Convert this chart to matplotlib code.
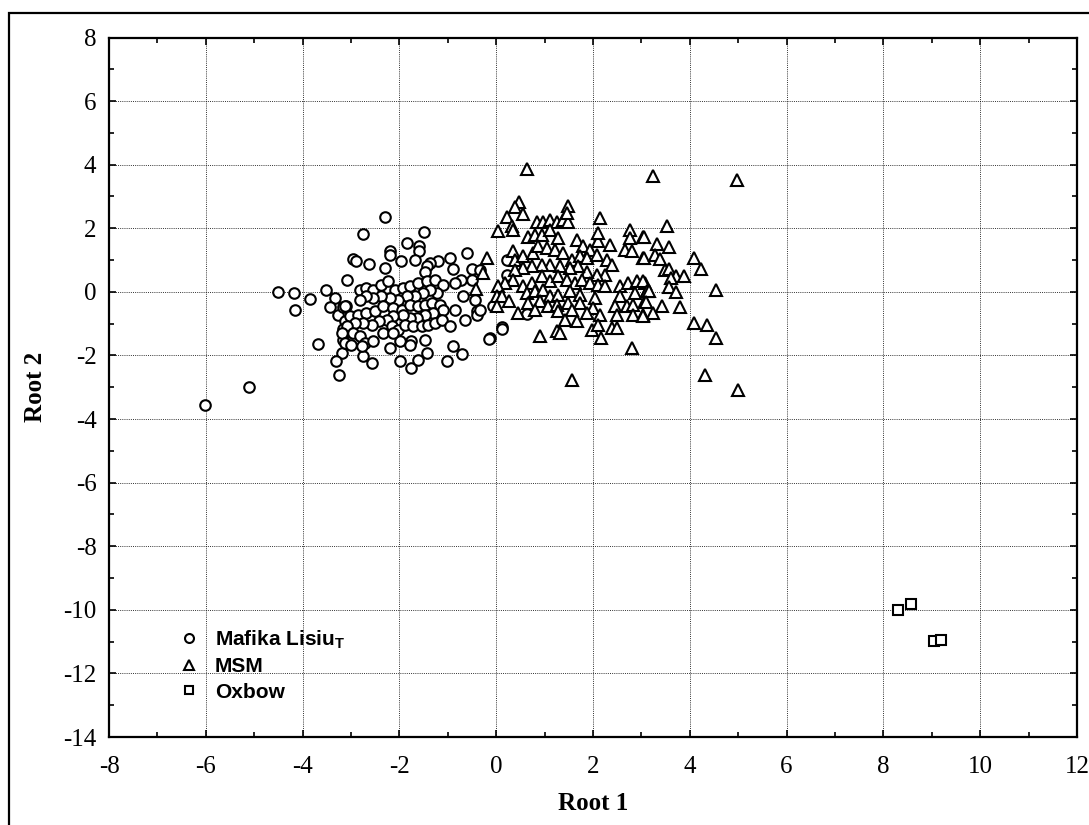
import matplotlib
matplotlib.use("Agg")
import matplotlib.pyplot as plt
from matplotlib.patches import Rectangle
import numpy as np

# ---------------- data ----------------
mafika_x = [-4.51, -4.18, -4.16, -3.85, -3.68, -5.10, -6.02, -3.52, -3.34, -3.43, -3.26, -3.16, -3.11,
            -3.12, -3.17, -3.16, -3.18, -3.30, -3.25, -3.09,
            -2.30, -2.76, -1.49, -1.84, -1.59, -1.59, -2.19, -2.19, -1.97, -1.68, -2.95, -2.90, -2.62,
            -2.30, -0.61, -0.95, -1.20, -1.37, -1.44, -1.47, -0.89, -0.51, -0.33, 0.22, 0.22, -0.72,
            -0.85, -0.51,
            -2.81, -2.68, -2.54, -2.37, -2.23, -2.09, -1.92, -1.78, -1.61, -1.44, -1.26, -1.09, -1.23,
            -1.37, -1.51, -1.68, -1.85, -2.02, -2.19, -2.37, -2.54, -2.68, -2.81, -3.12, -3.02, -2.85,
            -2.68, -2.50, -2.33, -2.13, -1.95, -1.78, -1.61, -1.47, -1.33, -1.16, -1.09, -1.30, -1.47,
            -1.64, -1.78, -1.92, -2.13, -2.26, -2.43, -2.57, -2.75, -2.92, -3.09, -3.19, -3.12, -2.95,
            -2.81, -2.71, -2.54, -2.33, -2.16, -2.02, -1.88, -1.71, -1.54, -1.40, -1.26, -1.13, -0.95,
            -0.85, -0.68, -0.44, -0.40, -0.40, -0.64, -0.13, 0.13, -0.89, -0.71, -1.02, -1.44, -1.47,
            -1.75, -1.99, -2.19, -1.99, -1.75, -1.61, -2.57, -2.75, -2.78, -2.99, -2.13, -1.78,
            -0.06, 0.63, 0.13, -0.14, -0.34]
mafika_y = [0.00, -0.04, -0.58, -0.22, -1.63, -3.00, -3.55, 0.07, -0.18, -0.48, -0.74, -0.48, -0.46,
            -0.93, -1.17, -1.50, -1.92, -2.18, -2.60, 0.36,
            2.37, 1.82, 1.87, 1.53, 1.43, 1.27, 1.27, 1.17, 0.96, 0.99, 1.03, 0.96, 0.88,
            0.75, 1.22, 1.08, 0.96, 0.91, 0.80, 0.64, 0.72, 0.72, 0.69, 1.01, 0.54, 0.38,
            0.28, 0.38,
            0.07, 0.12, 0.07, 0.23, 0.33, 0.07, 0.12, 0.17, 0.28, 0.33, 0.38, 0.22, -0.04,
            0.07, -0.04, -0.14, -0.14, -0.25, -0.19, -0.14, -0.19, -0.14, -0.25, -0.46, -0.77, -0.72,
            -0.67, -0.61, -0.46, -0.51, -0.56, -0.40, -0.46, -0.40, -0.35, -0.40, -0.56, -0.67, -0.72,
            -0.82, -0.82, -0.72, -0.77, -0.87, -0.93, -1.03, -0.98, -0.98, -1.08, -1.29, -1.61, -1.29,
            -1.40, -1.61, -1.55, -1.29, -1.08, -1.19, -1.03, -1.08, -1.08, -1.03, -0.98, -0.87, -1.08,
            -0.56, -0.14, -0.25, -0.61, -0.72, -0.87, -1.45, -1.12, -1.71, -1.95, -2.18, -1.92, -1.50,
            -1.56, -1.56, -1.76, -2.18, -2.39, -2.13, -2.24, -2.03, -1.71, -1.66, -1.29, -1.66,
            -0.46, -0.70, -1.16, -1.48, -0.56]

msm_x = [0.63, 0.47, 0.39, 0.55, 0.22, 0.32, 0.35, 0.04, 0.84, 0.97, 1.11, 1.25, 1.39, 1.49, 1.49,
         1.47, 2.14, 0.66, 0.80, 0.94, 1.11, 1.28, 1.66, 1.80, 1.94, 2.11, 2.11, 2.35, 2.76, 2.76,
         3.04, 2.66, 2.80, 3.04, -0.20, -0.27,
         0.35, 0.39, 0.56, 0.77, 0.87, 1.04, 1.21, 1.39, 1.56, 1.73, 1.87, 2.08, 2.28, 2.39, 2.25,
         2.08, 1.87, 1.70, 1.52, 1.32, 1.11, 0.94, 0.73, 0.56, 0.39, 0.35,
         0.18, 0.04, 0.01, 0.11, 0.27, 0.01,
         0.56, 0.73, 0.94, 1.11, 1.28, 1.46, 1.63, 1.77, 1.94, 2.11, 2.25, 2.56, 2.73, 2.90, 3.07,
         0.63, 0.80, 0.97, 1.11, 1.28, 1.52, 1.73, 2.04, 2.56, 2.87, 3.11,
         0.66, 0.90, 1.08, 1.25, 1.49, 1.73, 2.01, 2.45, 2.70, 2.83, 3.07,
         0.46, 0.80, 1.28, 1.56, 1.87, 2.14, 2.49, 2.83, 3.04,
         1.42, 1.66, 1.97, 2.11, 2.39, 2.49, 1.25, 1.32, 0.90, 2.16, 2.80, 1.56, -0.42,
         3.25, 4.97, 3.52, 3.05, 3.33, 3.58, 3.05, 3.28, 3.38, 4.09, 4.24, 3.49, 3.58, 3.71, 3.62,
         3.87, 3.04, 3.11, 3.16, 3.58, 3.71, 4.54, 3.10, 3.42, 3.80, 3.23, 3.04, 4.09, 4.35, 4.54,
         4.31, 5.00]
msm_y = [3.87, 2.84, 2.66, 2.44, 2.37, 2.06, 1.95, 1.90, 2.21, 2.21, 2.27, 2.21, 2.27, 2.21, 2.69,
         2.47, 2.32, 1.74, 1.80, 1.80, 1.95, 1.69, 1.64, 1.43, 1.32, 1.59, 1.85, 1.48, 1.95, 1.69,
         1.74, 1.32, 1.27, 1.06, 1.06, 0.59,
         1.27, 1.01, 1.12, 1.22, 1.43, 1.38, 1.32, 1.22, 1.01, 1.12, 1.06, 1.17, 1.01, 0.85, 0.54,
         0.54, 0.64, 0.80, 0.75, 0.80, 0.85, 0.85, 0.80, 0.75, 0.70, 0.38,
         0.28, 0.17, -0.14, -0.14, -0.30, -0.46,
         0.17, 0.28, 0.49, 0.33, 0.49, 0.38, 0.28, 0.38, 0.28, 0.22, 0.17, 0.17, 0.28, 0.33, 0.28,
         -0.04, 0.02, 0.07, -0.14, -0.09, 0.02, -0.09, -0.19, -0.14, -0.04, 0.02,
         -0.35, -0.30, -0.46, -0.40, -0.35, -0.35, -0.51, -0.46, -0.46, -0.40, -0.30,
         -0.66, -0.56, -0.61, -0.56, -0.66, -0.72, -0.72, -0.72, -0.72,
         -0.87, -0.93, -1.19, -1.03, -1.14, -1.14, -1.24, -1.29, -1.40, -1.45, -1.76, -2.76, 0.09,
         3.63, 3.52, 2.06, 1.72, 1.51, 1.41, 1.06, 1.17, 1.03, 1.06, 0.72, 0.70, 0.72, 0.49, 0.43,
         0.51, 0.33, 0.02, 0.02, 0.15, -0.02, 0.07, -0.33, -0.46, -0.48, -0.66, -0.77, -0.98, -1.03, -1.45,
         -2.63, -3.09]

oxbow_x = [8.30, 8.56, 9.05, 9.20]
oxbow_y = [-9.99, -9.81, -10.99, -10.94]

x_ticks = list(range(-8, 13, 2))
y_ticks = list(range(-14, 9, 2))
x_label = "Root 1"
y_label = "Root 2"
labels = [r"Mafika Lisiu$_{\mathbf{T}}$", "MSM", "Oxbow"]

# ---------------- style ----------------
plt.rcParams["mathtext.fontset"] = "custom"
plt.rcParams["mathtext.rm"] = "Liberation Sans"
plt.rcParams["mathtext.bf"] = "Liberation Sans:bold"

W, H = 1089, 825
fig = plt.figure(figsize=(W / 100, H / 100), dpi=100)
ax = fig.add_axes([109 / W, 1 - 737 / H, (1077 - 109) / W, (737 - 37.5) / H])

mk = dict(linestyle="none", markerfacecolor="white", markeredgecolor="black", markeredgewidth=1.5)
ax.plot(mafika_x, mafika_y, marker="o", markersize=7.6, label=labels[0], **mk)
ax.plot(msm_x, msm_y, marker="^", markersize=8.2, label=labels[1], **mk)
ax.plot(oxbow_x, oxbow_y, marker="s", markersize=7.6, label=labels[2], **mk)

ax.set_xlim(-8, 12)
ax.set_ylim(-14, 8)
ax.set_xticks(x_ticks)
ax.set_yticks(y_ticks)
ax.set_xticks(np.arange(-7, 12, 2), minor=True)
ax.set_yticks(np.arange(-13, 8, 2), minor=True)
ax.set_xticklabels([str(t) for t in x_ticks])
ax.set_yticklabels([str(t) for t in y_ticks])

ax.tick_params(which="both", direction="in", top=True, right=True, color="black")
ax.tick_params(which="major", length=5, width=1.2)
ax.tick_params(which="minor", length=3.5, width=1.2)
ax.tick_params(axis="x", which="major", pad=14, labelsize=18)
ax.tick_params(axis="y", which="major", pad=9, labelsize=18)
for lab in ax.get_xticklabels() + ax.get_yticklabels():
    lab.set_fontfamily("Liberation Serif")

ax.grid(True, which="major", color="black", linestyle=(0, (1, 1.2)), linewidth=0.7, alpha=0.8)
ax.set_axisbelow(True)
for s in ax.spines.values():
    s.set_linewidth(1.6)

ax.set_xlabel(x_label, fontsize=18, fontweight="bold", family="Liberation Serif", labelpad=10)
ax.set_ylabel(y_label, fontsize=18, fontweight="bold", family="Liberation Serif", labelpad=12)

leg = ax.legend(loc="upper left", bbox_to_anchor=(0.063, 0.167), frameon=False,
                prop={"family": "Liberation Sans", "weight": "bold", "size": 15},
                handlelength=1.0, handletextpad=0.75, labelspacing=0.3, borderaxespad=0,
                markerscale=0.85)

# outer frame
fig.patches.append(Rectangle((9 / W, -0.05), 1.2, 1.05 - 13 / H, transform=fig.transFigure,
                             fill=False, edgecolor="black", linewidth=1.6))

fig.savefig("out.png", dpi=100)
